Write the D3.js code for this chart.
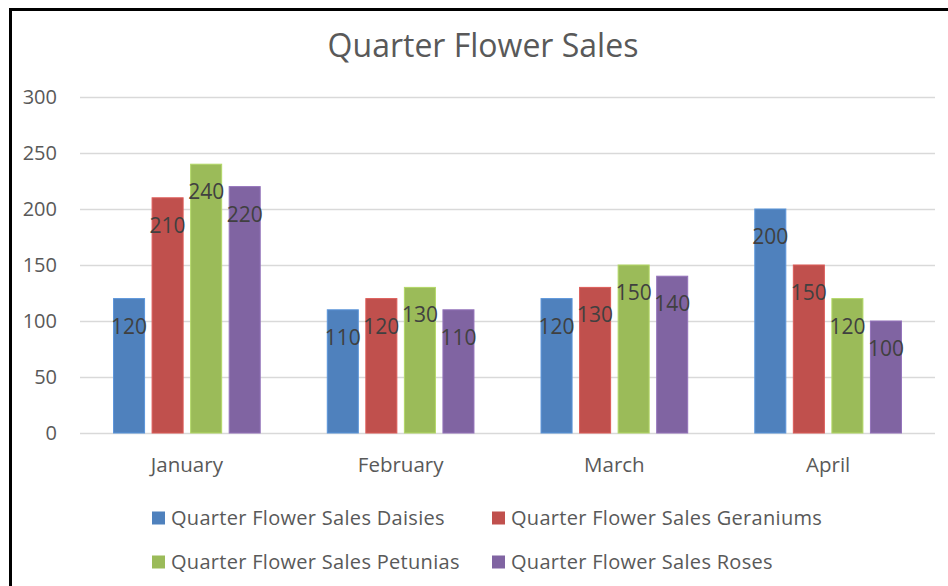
<!DOCTYPE html>
<html>
<head>
<meta charset="utf-8">
<script src="https://cdn.jsdelivr.net/npm/d3@7"></script>
<style>
  html, body { margin: 0; padding: 0; background: #fff; }
  svg { display: block; }
  text { font-family: "Open Sans", "Noto Sans", sans-serif; }
</style>
</head>
<body>
<svg id="chart" width="948" height="586"></svg>
<script>
// Monthly flower sales, one series per flower
const months = ["January", "February", "March", "April"];
const seriesNames = [
  "Quarter Flower Sales Daisies",
  "Quarter Flower Sales Geraniums",
  "Quarter Flower Sales Petunias",
  "Quarter Flower Sales Roses"
];
const daisies   = [120, 110, 120, 200];
const geraniums = [210, 120, 130, 150];
const petunias  = [240, 130, 150, 120];
const roses     = [220, 110, 140, 100];
const yTicks = [0, 50, 100, 150, 200, 250, 300];
const colors = ["#4F81BD", "#C0504D", "#9BBB59", "#8064A2"];

const seriesValues = [daisies, geraniums, petunias, roses];
const rows = months.map((m, i) => ({
  month: m,
  values: seriesNames.map((s, k) => ({ key: s, value: seriesValues[k][i], color: colors[k] }))
}));

const svg = d3.select("#chart");

// outer frame
svg.append("rect")
  .attr("x", 10.5).attr("y", 9.5)
  .attr("width", 960).attr("height", 600)
  .attr("fill", "#fff").attr("stroke", "#000").attr("stroke-width", 3);

const plot = { left: 80, right: 935, top: 97, bottom: 433 };

const x0 = d3.scaleBand().domain(months).range([plot.left, plot.right]).padding(0);
const x1 = d3.scaleBand().domain(seriesNames).range([0, x0.bandwidth()])
  .paddingInner(0.195).paddingOuter(0.87);
const y = d3.scaleLinear().domain([0, 300]).range([plot.bottom, plot.top]);

// title
svg.append("text")
  .attr("x", 483).attr("y", 57)
  .attr("text-anchor", "middle")
  .attr("fill", "#595959")
  .attr("font-size", 32)
  .text("Quarter Flower Sales");

// gridlines
svg.append("g")
  .selectAll("line").data(yTicks).join("line")
  .attr("x1", plot.left).attr("x2", plot.right)
  .attr("y1", d => Math.round(y(d)) + 0.5).attr("y2", d => Math.round(y(d)) + 0.5)
  .attr("stroke", "#D9D9D9").attr("stroke-width", 1.5);

// y axis labels
const yAxis = d3.axisLeft(y).tickValues(yTicks).tickSize(0).tickPadding(0);
const yg = svg.append("g").attr("transform", `translate(57,0)`).call(yAxis);
yg.select(".domain").remove();
yg.selectAll("text")
  .attr("fill", "#595959")
  .attr("font-size", 20)
  .attr("font-family", "\"Open Sans\", sans-serif");

// x axis labels
const xAxis = d3.axisBottom(x0).tickSize(0).tickPadding(0);
const xg = svg.append("g").attr("transform", `translate(0,${plot.bottom + 24})`).call(xAxis);
xg.select(".domain").remove();
xg.selectAll("text")
  .attr("fill", "#595959")
  .attr("font-size", 20.5)
  .attr("font-family", "\"Open Sans\", sans-serif");

// bars
const groups = svg.append("g").selectAll("g").data(rows).join("g")
  .attr("transform", d => `translate(${x0(d.month)},0)`);

groups.selectAll("rect").data(d => d.values).join("rect")
  .attr("x", d => x1(d.key))
  .attr("y", d => y(d.value))
  .attr("width", x1.bandwidth())
  .attr("height", d => y(0) - y(d.value))
  .attr("fill", d => d.color)
  .attr("stroke", d => d3.color(d.color).brighter(0.4))
  .attr("stroke-width", 1);

// value labels just inside the bar tops
groups.selectAll("text.val").data(d => d.values).join("text")
  .attr("class", "val")
  .attr("x", d => x1(d.key) + x1.bandwidth() / 2)
  .attr("y", d => y(d.value) + 35)
  .attr("text-anchor", "middle")
  .attr("fill", "#404040")
  .attr("font-size", 21)
  .text(d => d.value);

// legend
const legendPos = [
  { x: 152, y: 518 }, { x: 492, y: 518 },
  { x: 152, y: 562 }, { x: 492, y: 562 }
];
const legend = svg.append("g").selectAll("g").data(seriesNames).join("g")
  .attr("transform", (d, i) => `translate(${legendPos[i].x},${legendPos[i].y})`);
legend.append("rect")
  .attr("x", 0).attr("y", -6.5).attr("width", 13).attr("height", 13)
  .attr("fill", (d, i) => colors[i]);
legend.append("text")
  .attr("x", 19).attr("y", 0).attr("dy", "0.35em")
  .attr("fill", "#595959")
  .attr("font-size", 20)
  .attr("letter-spacing", 0.3)
  .text(d => d);
</script>
</body>
</html>
